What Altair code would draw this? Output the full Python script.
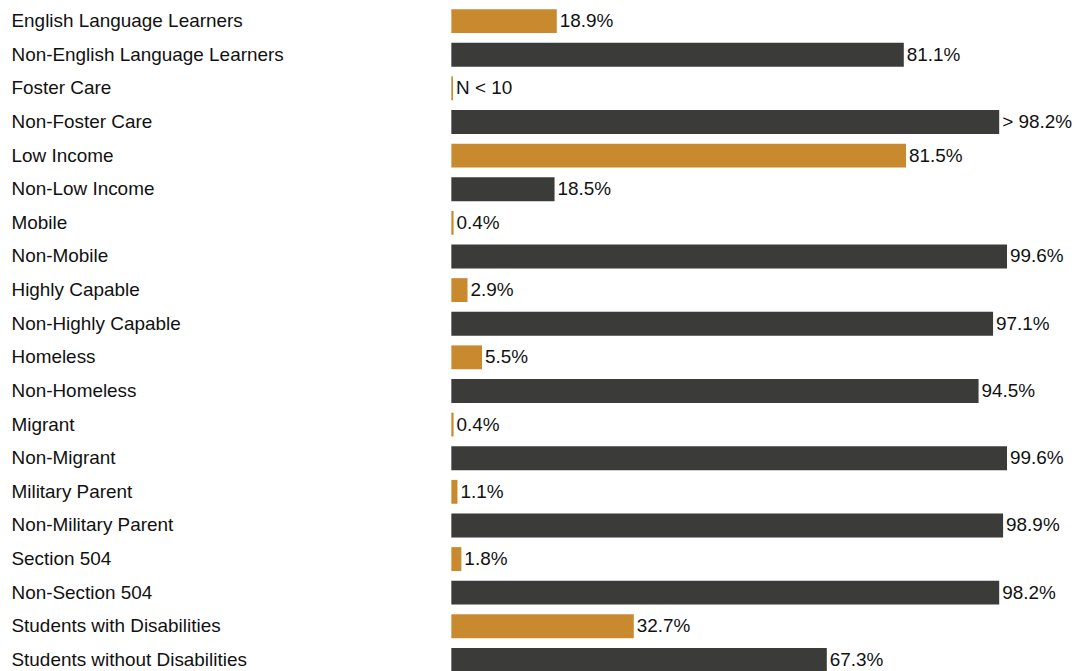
import altair as alt
import pandas as pd

categories = [
    "English Language Learners", "Non-English Language Learners",
    "Foster Care", "Non-Foster Care",
    "Low Income", "Non-Low Income",
    "Mobile", "Non-Mobile",
    "Highly Capable", "Non-Highly Capable",
    "Homeless", "Non-Homeless",
    "Migrant", "Non-Migrant",
    "Military Parent", "Non-Military Parent",
    "Section 504", "Non-Section 504",
    "Students with Disabilities", "Students without Disabilities",
]
values = [18.9, 81.1, 0.3, 98.2, 81.5, 18.5, 0.4, 99.6, 2.9, 97.1,
          5.5, 94.5, 0.4, 99.6, 1.1, 98.9, 1.8, 98.2, 32.7, 67.3]
labels = ["18.9%", "81.1%", "N < 10", "> 98.2%", "81.5%", "18.5%", "0.4%", "99.6%",
          "2.9%", "97.1%", "5.5%", "94.5%", "0.4%", "99.6%", "1.1%", "98.9%",
          "1.8%", "98.2%", "32.7%", "67.3%"]
groups = ["Group", "Non-group"] * 10

df = pd.DataFrame({"category": categories, "value": values, "label": labels, "group": groups})

FONT = "Liberation Sans"
FS = 19

y = alt.Y("category:N", sort=categories,
          scale=alt.Scale(paddingInner=0.29, paddingOuter=0.145),
          axis=alt.Axis(title=None, ticks=False, domain=False, grid=False, labelAlign="left",
                        labelPadding=442, labelFontSize=FS, labelFont=FONT,
                        labelColor="#111111", labelLimit=0))
x = alt.X("value:Q", scale=alt.Scale(domain=[0, 100]), axis=None)

bars = alt.Chart(df).mark_bar().encode(
    x=x, y=y,
    color=alt.Color("group:N", scale=alt.Scale(domain=["Group", "Non-group"],
                                               range=["#C98A2F", "#3B3B39"]), legend=None),
)
text = alt.Chart(df).mark_text(align="left", baseline="middle", dx=3, fontSize=FS,
                               font=FONT, color="#111111").encode(
    x=x, y=alt.Y("category:N", sort=categories), text="label:N")

chart = (bars + text).properties(
    width=560, height=675,
    padding={"left": 3, "top": -5, "right": 0, "bottom": 0},
).configure(background="white").configure_view(stroke=None)

chart.save("out.html", embed_options={"renderer": "svg", "actions": False})
